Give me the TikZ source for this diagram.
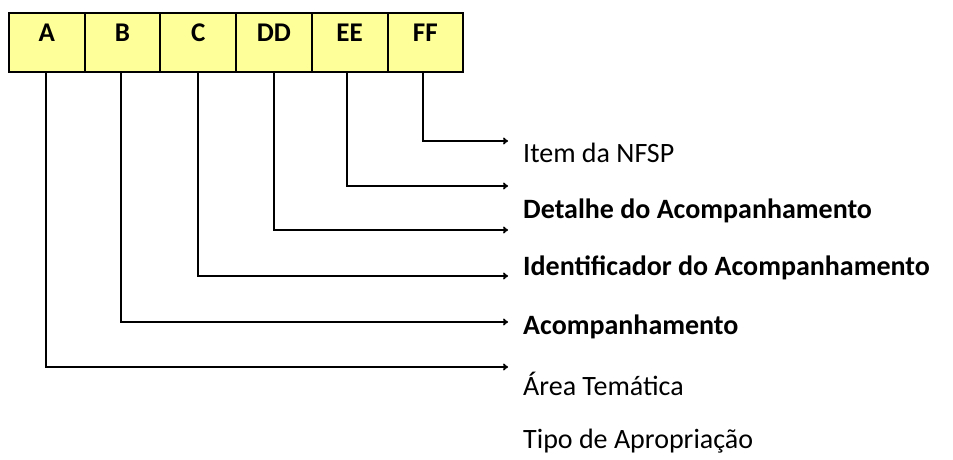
\documentclass[tikz,border=0pt]{standalone}
\usepackage{fontspec}
\setmainfont{Carlito}
\usetikzlibrary{arrows.meta}
\definecolor{boxyellow}{HTML}{FFFF99}
\tikzset{
  field/.style={draw, line width=2pt, fill=boxyellow, minimum width=75.7pt, outer sep=0pt,
    inner sep=0pt, text height=28pt, text depth=31pt, font=\fontsize{27}{32}\selectfont\bfseries},
  lead/.style={line width=1.9pt, -{To[length=5pt,width=7pt]}},
  desc/.style={anchor=west, inner sep=0pt, font=\fontsize{28}{33}\selectfont},
}
\begin{document}
\begin{tikzpicture}[x=1pt,y=-1pt]
		\useasboundingbox (0,0) rectangle (953,459);

		% Code fields
		\node[field, anchor=north west] (A) at (9,13) {A};
		\node[field, anchor=west] (B) at (A.east) {B};
		\node[field, anchor=west] (C) at (B.east) {C};
		\node[field, anchor=west] (DD) at (C.east) {DD};
		\node[field, anchor=west] (EE) at (DD.east) {EE};
		\node[field, anchor=west] (FF) at (EE.east) {FF};

		% Descriptions
		\node[desc] (itemNFSP) at (523,153) {Item da NFSP};
		\node[desc] (detalhe) at (523,211) {\bfseries Detalhe do Acompanhamento};
		\node[desc] (ident) at (523,268) {\bfseries Identificador do Acompanhamento};
		\node[desc] (acomp) at (523,327) {\bfseries Acompanhamento};
		\node[desc] (area) at (523,384) {Área Temática};
		\node[desc] (tipo) at (523,441) {Tipo de Apropriação};

		% Arrow ends
		\coordinate (endFF) at (508,141);
		\coordinate (endEE) at (508,186);
		\coordinate (endDD) at (508,230);
		\coordinate (endC) at (508,276);
		\coordinate (endB) at (508,322);
		\coordinate (endA) at (508,367);

		% Leads
		\draw[lead] (A.south -| 46,0) |- (endA);
		\draw[lead] (B.south -| 121,0) |- (endB);
		\draw[lead] (C.south -| 198,0) |- (endC);
		\draw[lead] (DD.south -| 274,0) |- (endDD);
		\draw[lead] (EE.south -| 347,0) |- (endEE);
		\draw[lead] (FF.south -| 423,0) |- (endFF);
	\end{tikzpicture}
\end{document}
